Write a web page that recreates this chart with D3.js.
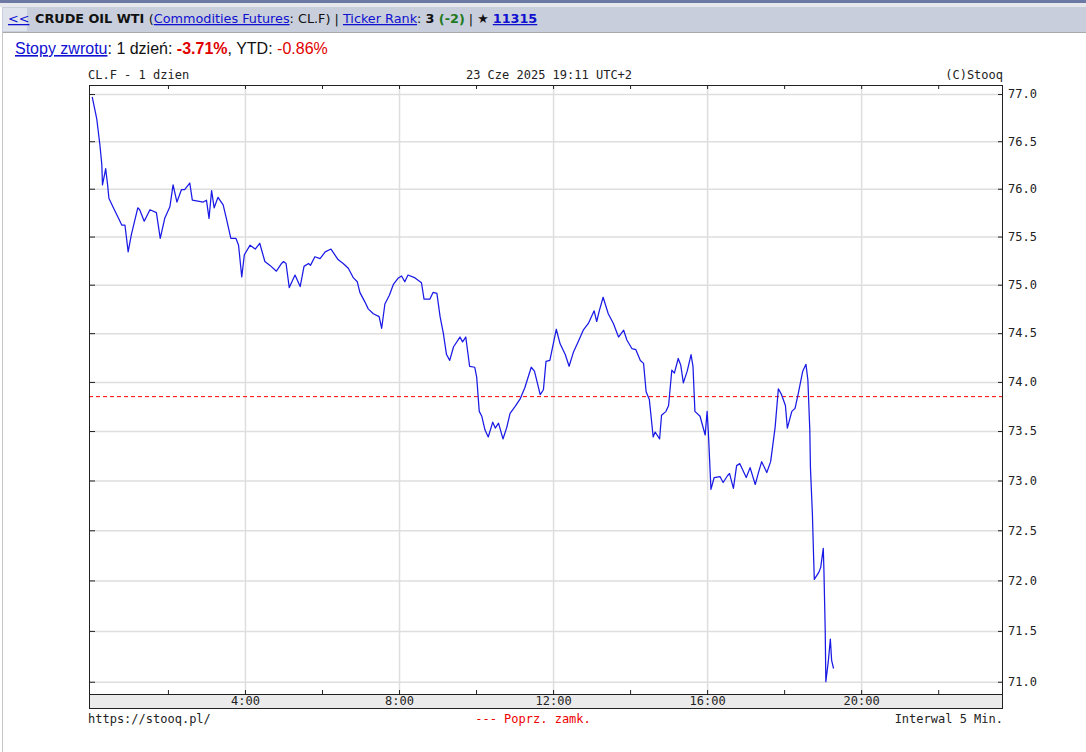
<!DOCTYPE html>
<html>
<head>
<meta charset="utf-8">
<title>CL.F - 1 dzien</title>
<script src="https://cdn.jsdelivr.net/npm/d3@7"></script>
<style>
body { margin: 0; background: #fff; }
.mono { font-family: "DejaVu Sans Mono", monospace; font-size: 12px; fill: #222; }
.grid line { stroke: #dedede; stroke-width: 1.5px; }
.grid path { display: none; }
.tk path { display: none; }
.tk line { stroke: #222; }
.tk text { font-family: "DejaVu Sans Mono", monospace; font-size: 12px; fill: #222; }
</style>
</head>
<body>
<svg id="chart" width="1086" height="752"></svg>
<script>
// 5 min price data, minutes from midnight
var minutes = [2,9,14,17,18,21,23,26,28,35,43,48,53,58,63,73,76,83,92,102,108,115,123,128,134,141,146,154,158,175,
  180,184,188,192,198,206,211,218,226,230,235,239,248,256,263,271,279,289,297,300,304,309,318,326,332,339,342,349,357,365,
  374,385,393,401,409,415,419,427,432,440,449,453,458,465,471,479,484,489,494,505,515,519,528,533,539,544,549,554,559,565,
  575,579,584,590,598,601,605,609,614,619,626,630,635,642,648,653,661,669,676,686,691,700,705,709,715,725,731,739,745,752,
  759,767,775,784,788,792,798,806,814,822,830,835,843,849,856,861,865,870,876,879,886,889,896,900,905,909,915,919,923,929,
  935,938,941,949,957,960,962,966,971,980,985,992,995,1001,1006,1011,1021,1027,1035,1040,1045,1053,1059,1066,1071,1076,1082,1085,1092,1097,
  1102,1109,1114,1117,1120,1121,1124,1126,1127,1134,1137,1141,1142,1144,1145,1149,1152,1154,1157];
var prices = [76.97,76.74,76.46,76.25,76.04,76.14,76.21,76.04,75.90,75.80,75.69,75.62,75.62,75.34,75.52,75.80,75.78,75.66,75.78,75.75,
  75.48,75.69,75.81,76.04,75.86,75.99,75.99,76.06,75.88,75.86,75.88,75.69,75.98,75.80,75.91,75.83,75.69,75.48,75.48,75.41,
  75.08,75.31,75.41,75.37,75.43,75.24,75.20,75.14,75.22,75.24,75.22,74.97,75.10,74.98,75.19,75.22,75.20,75.29,75.27,75.34,
  75.37,75.26,75.22,75.17,75.07,75.03,74.92,74.82,74.75,74.70,74.67,74.55,74.80,74.89,75.00,75.07,75.09,75.03,75.10,75.07,
  75.02,74.85,74.85,74.92,74.91,74.67,74.50,74.28,74.22,74.36,74.46,74.41,74.46,74.16,74.15,74.05,73.70,73.65,73.51,73.44,
  73.59,73.53,73.58,73.42,73.54,73.68,73.75,73.83,73.94,74.15,74.11,73.87,73.92,74.21,74.22,74.54,74.39,74.28,74.16,74.31,
  74.41,74.53,74.60,74.73,74.62,74.73,74.87,74.70,74.60,74.46,74.53,74.43,74.34,74.33,74.22,74.19,73.90,73.82,73.44,73.49,
  73.42,73.66,73.70,73.76,74.12,74.09,74.24,74.17,73.99,74.11,74.28,74.16,73.70,73.65,73.46,73.70,73.48,72.91,73.03,73.04,
  72.98,73.05,73.07,72.92,73.15,73.17,73.03,73.13,72.96,73.08,73.19,73.08,73.19,73.54,73.93,73.87,73.76,73.53,73.70,73.73,
  73.88,74.11,74.18,74.02,73.51,73.13,72.67,72.22,72.01,72.08,72.13,72.32,72.10,71.51,71.00,71.21,71.42,71.21,71.13];
var prevClose = 73.85;

var yTicks = [71.0, 71.5, 72.0, 72.5, 73.0, 73.5, 74.0, 74.5, 75.0, 75.5, 76.0, 76.5, 77.0];
var xMinorHours = [2, 4, 6, 8, 10, 12, 14, 16, 18, 20, 22];
var xLabelHours = [4, 8, 12, 16, 20];
var xTickLabels = ["4:00", "8:00", "12:00", "16:00", "20:00"];

var svg = d3.select("#chart");

// plot box
var plotL = 89, plotR = 1003, plotT = 85, plotB = 694, band = 15;

var x = d3.scaleLinear().domain([-3, 1421]).range([plotL, plotR]);
// price axis is logarithmic
var y = d3.scaleLog().domain([70.88, 77.096]).range([plotB, plotT]);

// page header
svg.append("rect").attr("x", 0).attr("y", 0).attr("width", 1086).attr("height", 3).attr("fill", "#6c79a4");
svg.append("rect").attr("x", 0).attr("y", 3).attr("width", 1086).attr("height", 4).attr("fill", "#e6e8ee");
svg.append("rect").attr("x", 2).attr("y", 7).attr("width", 1084).attr("height", 25).attr("fill", "#c8cedb");
svg.append("rect").attr("x", 3).attr("y", 8).attr("width", 24).attr("height", 23).attr("fill", "#dfe3eb");
svg.append("line").attr("x1", 2).attr("x2", 1086).attr("y1", 32.5).attr("y2", 32.5).attr("stroke", "#a9a9a9");
svg.append("line").attr("x1", 2.5).attr("x2", 2.5).attr("y1", 32).attr("y2", 752).attr("stroke", "#c4c4c4");

var hdr = svg.append("text").attr("x", 8).attr("y", 23)
  .style("font-family", "'DejaVu Sans', Verdana, sans-serif").style("font-size", "12.8px").attr("fill", "#111");
hdr.append("tspan").attr("fill", "#1010d0").style("text-decoration", "underline").text("<<");
hdr.append("tspan").attr("x", 35).style("font-weight", "bold").text("CRUDE OIL WTI ");
hdr.append("tspan").text("(");
hdr.append("tspan").attr("fill", "#1010d0").style("text-decoration", "underline").text("Commodities Futures");
hdr.append("tspan").text(": CL.F) | ");
hdr.append("tspan").attr("fill", "#1010d0").style("text-decoration", "underline").text("Ticker Rank");
hdr.append("tspan").text(": ");
hdr.append("tspan").style("font-weight", "bold").text("3 ");
hdr.append("tspan").style("font-weight", "bold").attr("fill", "#1e7a1e").text("(-2)");
hdr.append("tspan").text(" | \u2605 ");
hdr.append("tspan").attr("fill", "#1010d0").style("font-weight", "bold").style("text-decoration", "underline").text("11315");

var ret = svg.append("text").attr("x", 15).attr("y", 54)
  .style("font-family", "'Liberation Sans', Arial, sans-serif").style("font-size", "16px").attr("fill", "#111");
ret.append("tspan").attr("fill", "#1010d0").style("text-decoration", "underline").text("Stopy zwrotu");
ret.append("tspan").text(": 1 dzie\u0144: ");
ret.append("tspan").attr("fill", "#e00000").style("font-weight", "bold").text("-3.71%");
ret.append("tspan").text(", YTD: ");
ret.append("tspan").attr("fill", "#e00000").text("-0.86%");

// chart titles
svg.append("text").attr("class", "mono").attr("x", plotL - 1).attr("y", 79).text("CL.F - 1 dzien");
svg.append("text").attr("class", "mono").attr("x", 549).attr("y", 79).attr("text-anchor", "middle").text("23 Cze 2025 19:11 UTC+2");
svg.append("text").attr("class", "mono").attr("x", plotR).attr("y", 79).attr("text-anchor", "end").text("(C)Stooq");

// grid
svg.append("g").attr("class", "grid")
  .attr("transform", "translate(" + plotL + ",0)")
  .call(d3.axisLeft(y).tickValues(yTicks).tickSize(-(plotR - plotL)).tickFormat(""));
svg.append("g").attr("class", "grid")
  .attr("transform", "translate(0," + plotB + ")")
  .call(d3.axisBottom(x).tickValues(xLabelHours.map(function(h) { return h * 60; })).tickSize(plotB - plotT).tickFormat(""))
  .selectAll("line").attr("y2", -(plotB - plotT));

// previous close
svg.append("line")
  .attr("x1", plotL).attr("x2", plotR)
  .attr("y1", y(prevClose)).attr("y2", y(prevClose))
  .attr("stroke", "#ff0000").attr("stroke-width", 1).attr("stroke-dasharray", "4,3");

// price line
var data = minutes.map(function(m, i) { return {m: m, p: prices[i]}; });
var line = d3.line()
  .x(function(d) { return x(d.m); })
  .y(function(d) { return y(d.p); });
svg.append("path").datum(data)
  .attr("fill", "none").attr("stroke", "#1a1ae6").attr("stroke-width", 1.25)
  .attr("stroke-linejoin", "round")
  .attr("d", line);

// tick marks, pointing inward
var xMinor = xMinorHours.map(function(h) { return h * 60; });
svg.append("g").attr("class", "tk").attr("transform", "translate(0," + plotT + ")")
  .call(d3.axisTop(x).tickValues(xMinor).tickSize(-4).tickFormat(""));
svg.append("g").attr("class", "tk").attr("transform", "translate(0," + plotB + ")")
  .call(d3.axisBottom(x).tickValues(xMinor).tickSize(-4).tickFormat(""));
svg.append("g").attr("class", "tk").attr("transform", "translate(" + plotL + ",0)")
  .call(d3.axisLeft(y).tickValues(yTicks).tickSize(-6).tickFormat(""));
svg.append("g").attr("class", "tk").attr("transform", "translate(" + plotR + ",0)")
  .call(d3.axisRight(y).tickValues(yTicks).tickSize(-5).tickPadding(5).tickFormat(d3.format(".1f")));

// bottom band with hour labels
svg.append("rect").attr("x", plotL).attr("y", plotB).attr("width", plotR - plotL).attr("height", band)
  .attr("fill", "#ebebeb");
svg.append("g").attr("class", "tk").attr("transform", "translate(0," + plotB + ")")
  .call(d3.axisBottom(x).tickValues(xLabelHours.map(function(h) { return h * 60; })).tickSize(0).tickPadding(2)
    .tickFormat(function(d, i) { return xTickLabels[i]; }));

// frame
svg.append("rect").attr("x", plotL + 0.5).attr("y", plotT + 0.5)
  .attr("width", plotR - plotL - 1).attr("height", plotB + band - plotT - 1)
  .attr("fill", "none").attr("stroke", "#222");
svg.append("line").attr("x1", plotL).attr("x2", plotR).attr("y1", plotB + 0.5).attr("y2", plotB + 0.5).attr("stroke", "#222");

// footer
svg.append("text").attr("class", "mono").attr("x", plotL - 1).attr("y", 723).text("https://stooq.pl/");
svg.append("text").attr("class", "mono").attr("x", 533).attr("y", 723).attr("text-anchor", "middle")
  .style("fill", "#ee0000").text("--- Poprz. zamk.");
svg.append("text").attr("class", "mono").attr("x", plotR).attr("y", 723).attr("text-anchor", "end").text("Interwal 5 Min.");
</script>
</body>
</html>
